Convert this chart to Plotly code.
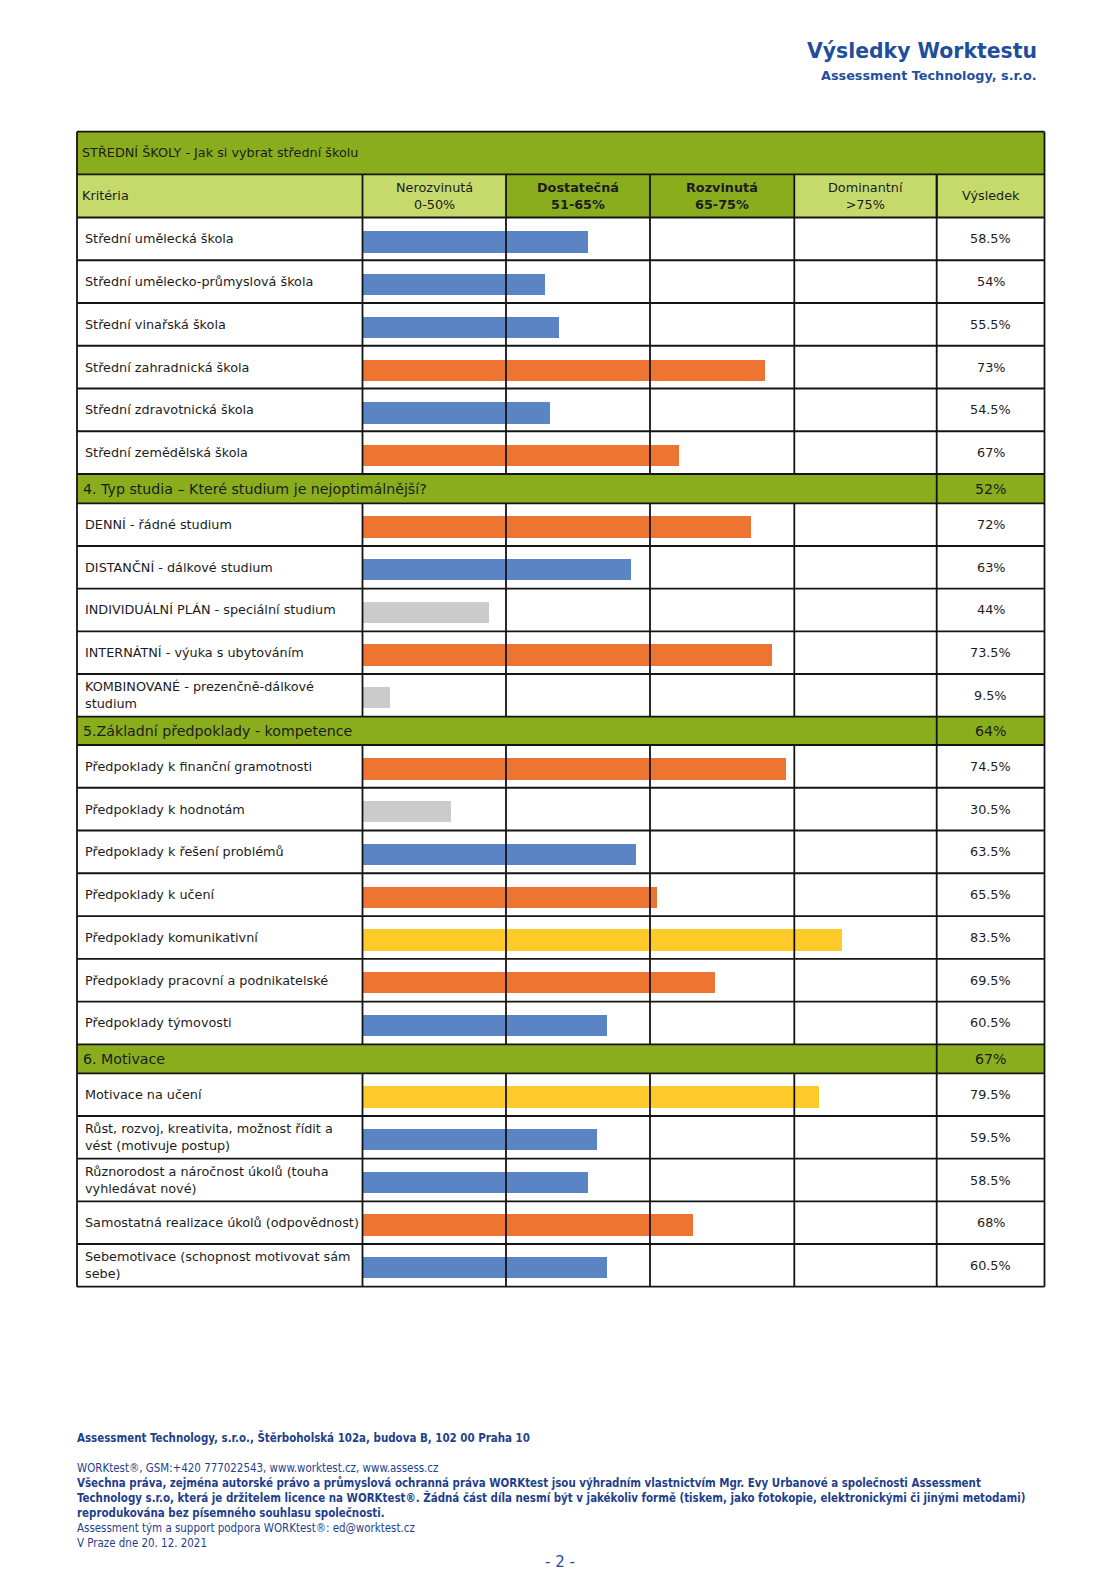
import numpy as np
import plotly.graph_objects as go

W, H = 1119, 1582

# ---------------- data ----------------
page_title = "Výsledky Worktestu"
page_subtitle = "Assessment Technology, s.r.o."
table_title = "STŘEDNÍ ŠKOLY - Jak si vybrat střední školu"
header_first = "Kritéria"
header_bands = ["Nerozvinutá<br>0-50%", "<b>Dostatečná<br>51-65%</b>",
                "<b>Rozvinutá<br>65-75%</b>", "Dominantní<br>&gt;75%"]
header_result = "Výsledek"
band_edges = [0, 50, 65, 75, 100]          # thresholds of the four bands (%)
band_colors = ["#cbcbcb", "#5a84c4", "#ed7431", "#fdca2a"]

b1_labels = ["Střední umělecká škola", "Střední umělecko-průmyslová škola",
             "Střední vinařská škola", "Střední zahradnická škola",
             "Střední zdravotnická škola", "Střední zemědělská škola"]
b1_values = [58.5, 54, 55.5, 73, 54.5, 67]

b2_labels = ["DENNÍ - řádné studium", "DISTANČNÍ - dálkové studium",
             "INDIVIDUÁLNÍ PLÁN - speciální studium",
             "INTERNÁTNÍ - výuka s ubytováním",
             "KOMBINOVANÉ - prezenčně-dálkové<br>studium"]
b2_values = [72, 63, 44, 73.5, 9.5]

b3_labels = ["Předpoklady k finanční gramotnosti", "Předpoklady k hodnotám",
             "Předpoklady k řešení problémů", "Předpoklady k učení",
             "Předpoklady komunikativní", "Předpoklady pracovní a podnikatelské",
             "Předpoklady týmovosti"]
b3_values = [74.5, 30.5, 63.5, 65.5, 83.5, 69.5, 60.5]

b4_labels = ["Motivace na učení",
             "Růst, rozvoj, kreativita, možnost řídit a<br>vést (motivuje postup)",
             "Různorodost a náročnost úkolů (touha<br>vyhledávat nové)",
             "Samostatná realizace úkolů (odpovědnost)",
             "Sebemotivace (schopnost motivovat sám<br>sebe)"]
b4_values = [79.5, 59.5, 58.5, 68, 60.5]

section_titles = ["4. Typ studia – Které studium je nejoptimálnější?",
                  "5.Základní předpoklady - kompetence", "6. Motivace"]
section_results = ["52%", "64%", "67%"]

footer_lines = [
    ("<b>Assessment Technology, s.r.o., Štěrboholská 102a, budova B, 102 00 Praha 10</b>", 1437),
    ("WORKtest®, GSM:+420 777022543, www.worktest.cz, www.assess.cz", 1467.5),
    ("<b>Všechna práva, zejména autorské právo a průmyslová ochranná práva WORKtest jsou výhradním vlastnictvím Mgr. Evy Urbanové a společnosti Assessment</b>", 1482.5),
    ("<b>Technology s.r.o, která je držitelem licence na WORKtest®. Žádná část díla nesmí být v jakékoliv formě (tiskem, jako fotokopie, elektronickými či jinými metodami)</b>", 1497.5),
    ("<b>reprodukována bez písemného souhlasu společnosti.</b>", 1512.5),
    ("Assessment tým a support podpora WORKtest®: ed@worktest.cz", 1527.5),
    ("V Praze dne 20. 12. 2021", 1542.5),
]
page_number = "- 2 -"

blocks = [(b1_labels, b1_values), (b2_labels, b2_values),
          (b3_labels, b3_values), (b4_labels, b4_values)]

# ---------------- layout geometry (pixels) ----------------
COLS = [77, 362.5, 506, 650, 794.3, 936.7, 1044.5]
TOP, HEAD1, HEAD2 = 131.7, 174.3, 217.5
block_spans = [(217.5, 474), (503.3, 716.7), (745, 1044.3), (1073.3, 1286.7)]
section_spans = [(474, 503.3), (716.7, 745), (1044.3, 1073.3)]

DARK_GREEN = "#8aad1e"
LIGHT_GREEN = "#c6da6c"
LINE = "#141414"
TEXT = "#1c1c1c"
BLUE_TXT = "#1f4f9c"
FOOT = "#1f3f8c"
FONT = "DejaVu Sans"


def px(x):
    return x / W


def py(y):
    return 1 - y / H


def band_pos(v):
    # piecewise-linear scale: each band occupies one equal-width column
    return float(np.interp(v, band_edges, np.arange(len(band_edges))))


def band_color(v):
    idx = int(np.searchsorted(band_edges[1:-1], v, side="left"))
    return band_colors[idx]


fig = go.Figure()
annotations = []
shapes = []

layout_axes = {
    "xaxis": dict(domain=[px(COLS[1]), px(COLS[5])], range=[0, 4], visible=False,
                  fixedrange=True, anchor="y"),
}

for i, (labels, values) in enumerate(blocks):
    ax = "" if i == 0 else str(i + 1)
    top, bot = block_spans[i]
    n = len(labels)
    layout_axes["yaxis" + ax] = dict(
        domain=[py(bot), py(top)], range=[n - 0.5, -0.5], visible=False,
        type="category", categoryorder="array", categoryarray=labels,
        anchor="x", fixedrange=True)
    fig.add_trace(go.Bar(
        x=[band_pos(v) for v in values], y=labels, orientation="h",
        marker=dict(color=[band_color(v) for v in values], line=dict(width=0)),
        width=0.5, offset=-0.19, xaxis="x", yaxis="y" + ax,
        hoverinfo="skip", showlegend=False))
    for lab, v in zip(labels, values):
        annotations.append(dict(x=px(83), y=lab, xref="paper", yref="y" + ax,
                                text=lab, showarrow=False, xanchor="left",
                                yanchor="middle", align="left",
                                font=dict(family=FONT, size=12.8, color=TEXT)))
        annotations.append(dict(x=px((COLS[5] + COLS[6]) / 2), y=lab, xref="paper",
                                yref="y" + ax, text=f"{v:g}%", showarrow=False,
                                xanchor="center", yanchor="middle",
                                font=dict(family=FONT, size=12.8, color=TEXT)))
    # grid lines of this block
    edges = np.linspace(top, bot, n + 1)
    for e in edges[1:-1]:
        shapes.append(dict(type="line", xref="paper", yref="paper",
                           x0=px(COLS[0]), x1=px(COLS[6]), y0=py(e), y1=py(e),
                           line=dict(color=LINE, width=1.8), layer="above"))
    for c in COLS[1:5]:
        shapes.append(dict(type="line", xref="paper", yref="paper",
                           x0=px(c), x1=px(c), y0=py(top), y1=py(bot),
                           line=dict(color=LINE, width=1.8), layer="above"))

# top title row and header row fills
shapes.append(dict(type="rect", xref="paper", yref="paper", x0=px(COLS[0]), x1=px(COLS[6]),
                   y0=py(HEAD1), y1=py(TOP), fillcolor=DARK_GREEN, line=dict(width=0),
                   layer="below"))
header_fill = [LIGHT_GREEN, LIGHT_GREEN, DARK_GREEN, DARK_GREEN, LIGHT_GREEN, LIGHT_GREEN]
for j in range(6):
    shapes.append(dict(type="rect", xref="paper", yref="paper", x0=px(COLS[j]),
                       x1=px(COLS[j + 1]), y0=py(HEAD2), y1=py(HEAD1),
                       fillcolor=header_fill[j], line=dict(width=0), layer="below"))
for j in range(1, 6):
    shapes.append(dict(type="line", xref="paper", yref="paper", x0=px(COLS[j]),
                       x1=px(COLS[j]), y0=py(HEAD2), y1=py(HEAD1),
                       line=dict(color=LINE, width=1.8), layer="above"))

# section rows
for (top, bot), t, r in zip(section_spans, section_titles, section_results):
    shapes.append(dict(type="rect", xref="paper", yref="paper", x0=px(COLS[0]),
                       x1=px(COLS[6]), y0=py(bot), y1=py(top), fillcolor=DARK_GREEN,
                       line=dict(width=0), layer="below"))
    annotations.append(dict(x=px(80.5), y=py((top + bot) / 2), xref="paper", yref="paper",
                            text=t, showarrow=False, xanchor="left", yanchor="middle",
                            font=dict(family=FONT, size=14.2, color=TEXT)))
    annotations.append(dict(x=px((COLS[5] + COLS[6]) / 2), y=py((top + bot) / 2),
                            xref="paper", yref="paper", text=r, showarrow=False,
                            xanchor="center", yanchor="middle",
                            font=dict(family=FONT, size=14.2, color=TEXT)))

# horizontal structural lines
hlines = [TOP, HEAD1, HEAD2] + [s for span in section_spans for s in span] + [block_spans[-1][1]]
for h in hlines:
    shapes.append(dict(type="line", xref="paper", yref="paper", x0=px(COLS[0]),
                       x1=px(COLS[6]), y0=py(h), y1=py(h),
                       line=dict(color=LINE, width=1.8), layer="above"))
# outer verticals and result column line
bottom = block_spans[-1][1]
for c, y0 in [(COLS[0], TOP), (COLS[6], TOP), (COLS[5], HEAD1)]:
    shapes.append(dict(type="line", xref="paper", yref="paper", x0=px(c), x1=px(c),
                       y0=py(y0), y1=py(bottom), line=dict(color=LINE, width=1.8),
                       layer="above"))

# header texts
annotations.append(dict(x=px(80), y=py((TOP + HEAD1) / 2), xref="paper", yref="paper",
                        text=table_title, showarrow=False, xanchor="left", yanchor="middle",
                        font=dict(family=FONT, size=12.8, color=TEXT)))
annotations.append(dict(x=px(80), y=py((HEAD1 + HEAD2) / 2), xref="paper", yref="paper",
                        text=header_first, showarrow=False, xanchor="left", yanchor="middle",
                        font=dict(family=FONT, size=12.8, color=TEXT)))
for j, t in enumerate(header_bands):
    annotations.append(dict(x=px((COLS[j + 1] + COLS[j + 2]) / 2), y=py((HEAD1 + HEAD2) / 2),
                            xref="paper", yref="paper", text=t, showarrow=False,
                            xanchor="center", yanchor="middle", align="center",
                            font=dict(family=FONT, size=12.8, color=TEXT)))
annotations.append(dict(x=px((COLS[5] + COLS[6]) / 2), y=py((HEAD1 + HEAD2) / 2),
                        xref="paper", yref="paper", text=header_result, showarrow=False,
                        xanchor="center", yanchor="middle",
                        font=dict(family=FONT, size=12.8, color=TEXT)))

# page header
annotations.append(dict(x=px(1039), y=py(51), xref="paper", yref="paper",
                        text=f"<b>{page_title}</b>", showarrow=False, xanchor="right",
                        yanchor="middle", font=dict(family=FONT, size=20.4, color=BLUE_TXT)))
annotations.append(dict(x=px(1039), y=py(76), xref="paper", yref="paper",
                        text=f"<b>{page_subtitle}</b>", showarrow=False, xanchor="right",
                        yanchor="middle", font=dict(family=FONT, size=12.8, color=BLUE_TXT)))

# footer
FOOT_FONT = "DejaVu Sans Condensed, Liberation Sans Narrow, DejaVu Sans"
for t, y in footer_lines:
    annotations.append(dict(x=px(75), y=py(y), xref="paper", yref="paper", text=t,
                            showarrow=False, xanchor="left", yanchor="middle",
                            font=dict(family=FOOT_FONT, size=11.45, color=FOOT)))
annotations.append(dict(x=px(560), y=py(1562), xref="paper", yref="paper", text=page_number,
                        showarrow=False, xanchor="center", yanchor="middle",
                        font=dict(family=FONT, size=15, color=BLUE_TXT)))

fig.update_layout(
    width=W, height=H, margin=dict(l=0, r=0, t=0, b=0),
    paper_bgcolor="white", plot_bgcolor="rgba(0,0,0,0)",
    showlegend=False, bargap=0, shapes=shapes, annotations=annotations,
    **layout_axes)

fig.write_html("out.html", config={"displayModeBar": False},
               post_script="document.body.style.margin='0';document.body.style.overflow='hidden';")
